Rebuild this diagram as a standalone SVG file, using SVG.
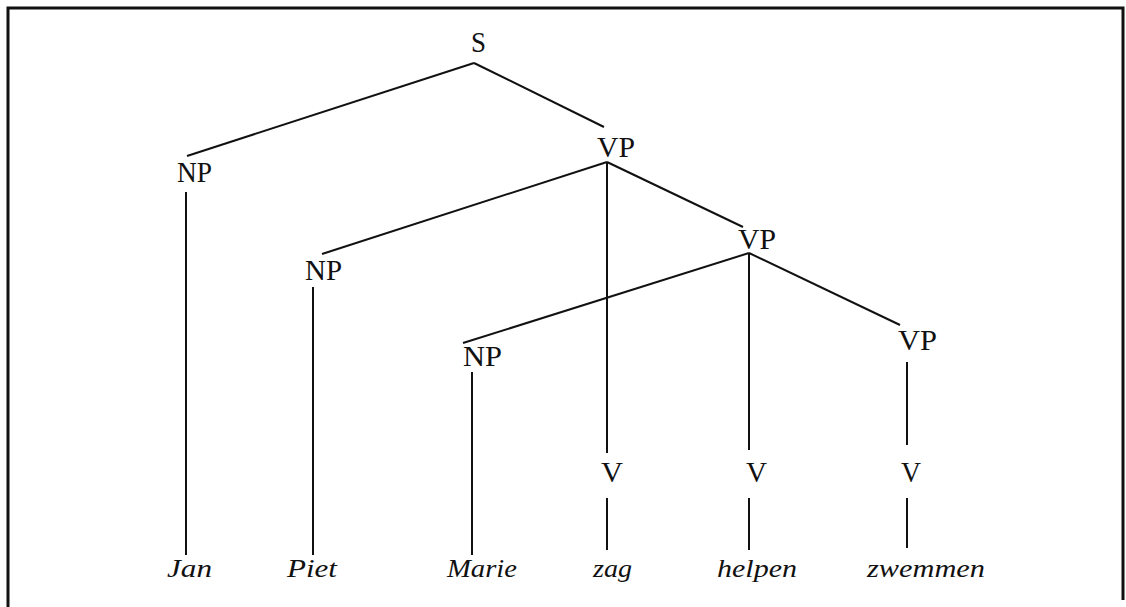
<svg xmlns="http://www.w3.org/2000/svg" width="1126" height="607" viewBox="0 0 1126 607">
<style>
.cat{font-family:"Liberation Serif","Times New Roman",serif;font-size:29px;fill:#111}
.word{font-family:"Liberation Serif","Times New Roman",serif;font-style:italic;font-size:25px;fill:#111}
.edge{stroke:#111;stroke-width:2;fill:none;stroke-linecap:butt}
.frame{stroke:#111;stroke-width:3;fill:none}
</style>
<rect width="1126" height="607" fill="#fff"/>
<path class="frame" d="M8,607 L8,8 L1123,8 L1123,600"/>
<g id="connectors">
<line class="edge" x1="474" y1="63" x2="187" y2="156"/>
<line class="edge" x1="474" y1="63" x2="604" y2="127"/>
<line class="edge" x1="186" y1="192" x2="186" y2="555"/>
<line class="edge" x1="607" y1="162" x2="322" y2="254"/>
<line class="edge" x1="607" y1="162" x2="743" y2="227"/>
<line class="edge" x1="607" y1="162" x2="607" y2="453"/>
<line class="edge" x1="607" y1="498" x2="607" y2="550"/>
<line class="edge" x1="313" y1="287" x2="313" y2="555"/>
<line class="edge" x1="749" y1="253" x2="463" y2="343"/>
<line class="edge" x1="749" y1="253" x2="900" y2="325"/>
<line class="edge" x1="749" y1="253" x2="749" y2="450"/>
<line class="edge" x1="749" y1="498" x2="749" y2="550"/>
<line class="edge" x1="472" y1="372" x2="472" y2="555"/>
<line class="edge" x1="907" y1="362" x2="907" y2="445"/>
<line class="edge" x1="907" y1="498" x2="907" y2="548"/>
</g>
<g id="S"><text class="cat" x="471" y="52" textLength="15" lengthAdjust="spacingAndGlyphs">S</text></g>
<g id="NP1"><text class="cat" x="177" y="182" textLength="35" lengthAdjust="spacingAndGlyphs">NP</text></g>
<g id="VP1"><text class="cat" x="597" y="157" textLength="38" lengthAdjust="spacingAndGlyphs">VP</text></g>
<g id="NP2"><text class="cat" x="305" y="280" textLength="37" lengthAdjust="spacingAndGlyphs">NP</text></g>
<g id="VP2"><text class="cat" x="738" y="249" textLength="38" lengthAdjust="spacingAndGlyphs">VP</text></g>
<g id="NP3"><text class="cat" x="463" y="366" textLength="39" lengthAdjust="spacingAndGlyphs">NP</text></g>
<g id="VP3"><text class="cat" x="898" y="350" textLength="39" lengthAdjust="spacingAndGlyphs">VP</text></g>
<g id="V1"><text class="cat" x="601" y="482" textLength="22" lengthAdjust="spacingAndGlyphs">V</text></g>
<g id="V2"><text class="cat" x="746" y="482" textLength="21" lengthAdjust="spacingAndGlyphs">V</text></g>
<g id="V3"><text class="cat" x="901" y="482" textLength="20" lengthAdjust="spacingAndGlyphs">V</text></g>
<g id="Jan"><text class="word" x="167" y="577" textLength="45" lengthAdjust="spacingAndGlyphs">Jan</text></g>
<g id="Piet"><text class="word" x="287" y="577" textLength="50" lengthAdjust="spacingAndGlyphs">Piet</text></g>
<g id="Marie"><text class="word" x="447" y="577" textLength="70" lengthAdjust="spacingAndGlyphs">Marie</text></g>
<g id="zag"><text class="word" x="593" y="577" textLength="39" lengthAdjust="spacingAndGlyphs">zag</text></g>
<g id="helpen"><text class="word" x="717" y="577" textLength="80" lengthAdjust="spacingAndGlyphs">helpen</text></g>
<g id="zwemmen"><text class="word" x="867" y="577" textLength="118" lengthAdjust="spacingAndGlyphs">zwemmen</text></g>
</svg>
